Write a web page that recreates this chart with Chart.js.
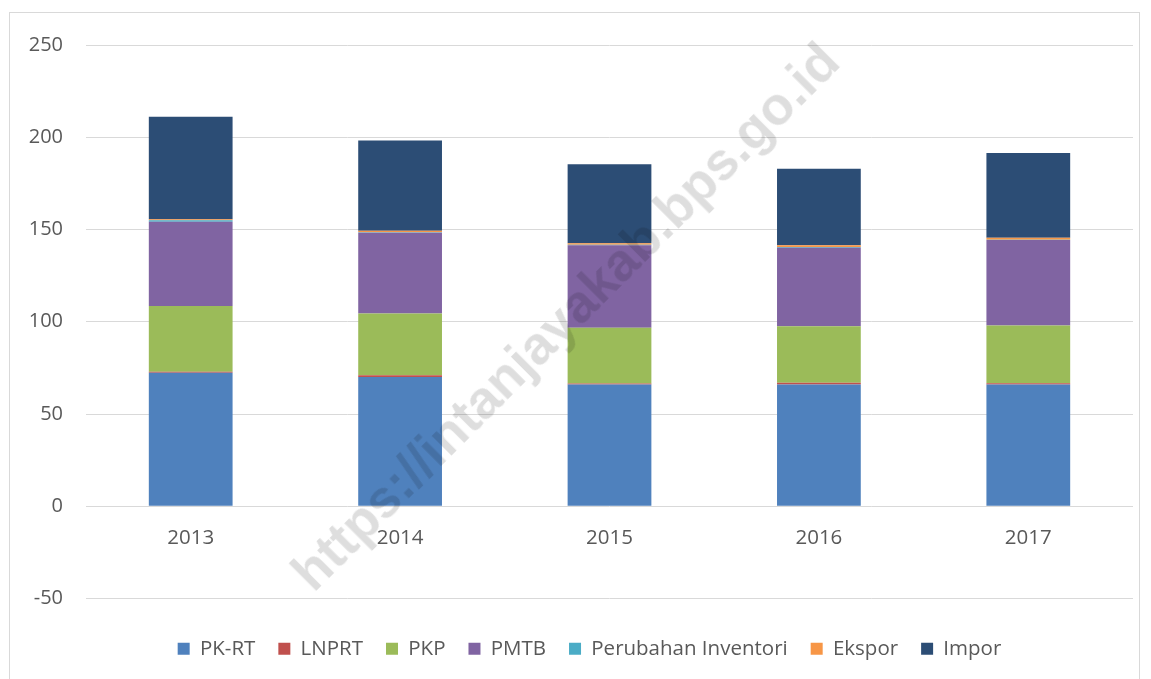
<!DOCTYPE html>
<html>
<head>
<meta charset="utf-8">
<script src="https://cdn.jsdelivr.net/npm/chart.js@4.4.1/dist/chart.umd.min.js"></script>
<style>
  html, body { margin: 0; padding: 0; background: #ffffff; }
  #wrap { position: relative; width: 1151px; height: 679px; overflow: hidden; }
  #frame { position: absolute; left: 9px; top: 12px; width: 1131px; height: 700px; border: 1px solid #d9d9d9; box-sizing: border-box; pointer-events: none; }
  #c { position: absolute; left: 0; top: 0; }
  #wm { position: absolute; left: 565px; top: 316px; transform: translate(-50%, -50%) rotate(-45deg);
        font-family: "Liberation Sans", Arial, sans-serif; font-weight: bold; font-size: 53px;
        color: rgba(0,0,0,0.13); white-space: nowrap; pointer-events: none; }
</style>
</head>
<body>
<div id="wrap">
  <div id="frame"></div>
  <canvas id="c" width="1151" height="679"></canvas>
  <div id="wm">https://intanjayakab.bps.go.id</div>
</div>
<script>
const categories = ["2013", "2014", "2015", "2016", "2017"];
const pkrt       = [72.3, 70.1, 66.0, 66.0, 66.0];
const lnprt      = [0.6, 0.9, 0.5, 0.9, 0.7];
const pkp        = [35.6, 33.5, 30.2, 30.7, 31.3];
const pmtb       = [45.7, 43.7, 44.7, 42.5, 46.3];
const inventori  = [0.8, 0.3, 0.4, 0.4, 0.2];
const ekspor     = [0.5, 0.8, 0.8, 0.9, 1.0];
const impor      = [55.6, 49.0, 42.8, 41.5, 45.9];
const yTicks     = [-50, 0, 50, 100, 150, 200, 250];

const seriesNames  = ["PK-RT", "LNPRT", "PKP", "PMTB", "Perubahan Inventori", "Ekspor", "Impor"];
const seriesValues = [pkrt, lnprt, pkp, pmtb, inventori, ekspor, impor];
const seriesColors = ["#4F81BD", "#C0504D", "#9BBB59", "#8064A2", "#4BACC6", "#F79646", "#2C4D75"];

const datasets = seriesNames.map((name, i) => ({
  label: name,
  data: seriesValues[i],
  backgroundColor: seriesColors[i],
  borderWidth: 0,
  categoryPercentage: 1.0,
  barPercentage: 0.4,
  xAxisID: 'x',
  yAxisID: 'y'
}));

const FONT = '"Open Sans", "Noto Sans", sans-serif';

// shift the legend block slightly right, as in the reference
const legendShift = {
  id: 'legendShift',
  afterLayout(chart) {
    const l = chart.legend;
    if (l) { l.left += 18; l.right += 18; }
  }
};

new Chart(document.getElementById('c'), {
  type: 'bar',
  data: { labels: categories, datasets },
  plugins: [legendShift],
  options: {
    responsive: false,
    animation: false,
    layout: { padding: { left: 10, right: 18, top: 45, bottom: 10 } },
    scales: {
      x: {
        stacked: true,
        position: { y: 0 },
        grid: { display: false, drawTicks: false },
        border: { display: false },
        ticks: { color: '#595959', font: { family: FONT, size: 20.5 }, padding: 20 }
      },
      xs: {
        type: 'category',
        position: 'bottom',
        grid: { display: false, drawTicks: false },
        border: { display: false },
        ticks: { display: false },
        afterFit: (s) => { s.height = 17; }
      },
      y: {
        stacked: true,
        min: -50,
        max: 250,
        afterBuildTicks: (s) => { s.ticks = yTicks.map(v => ({ value: v })); },
        grid: { color: '#d9d9d9', lineWidth: 1, drawTicks: false },
        border: { display: false },
        ticks: { color: '#595959', font: { family: FONT, size: 20 }, padding: 23 },
        afterFit: (s) => { s.width = 76; }
      }
    },
    plugins: {
      legend: {
        position: 'bottom',
        labels: {
          color: '#595959',
          font: { family: FONT, size: 20.5 },
          boxWidth: 12,
          boxHeight: 12,
          padding: 23
        }
      },
      tooltip: { enabled: false }
    }
  }
});
</script>
</body>
</html>
